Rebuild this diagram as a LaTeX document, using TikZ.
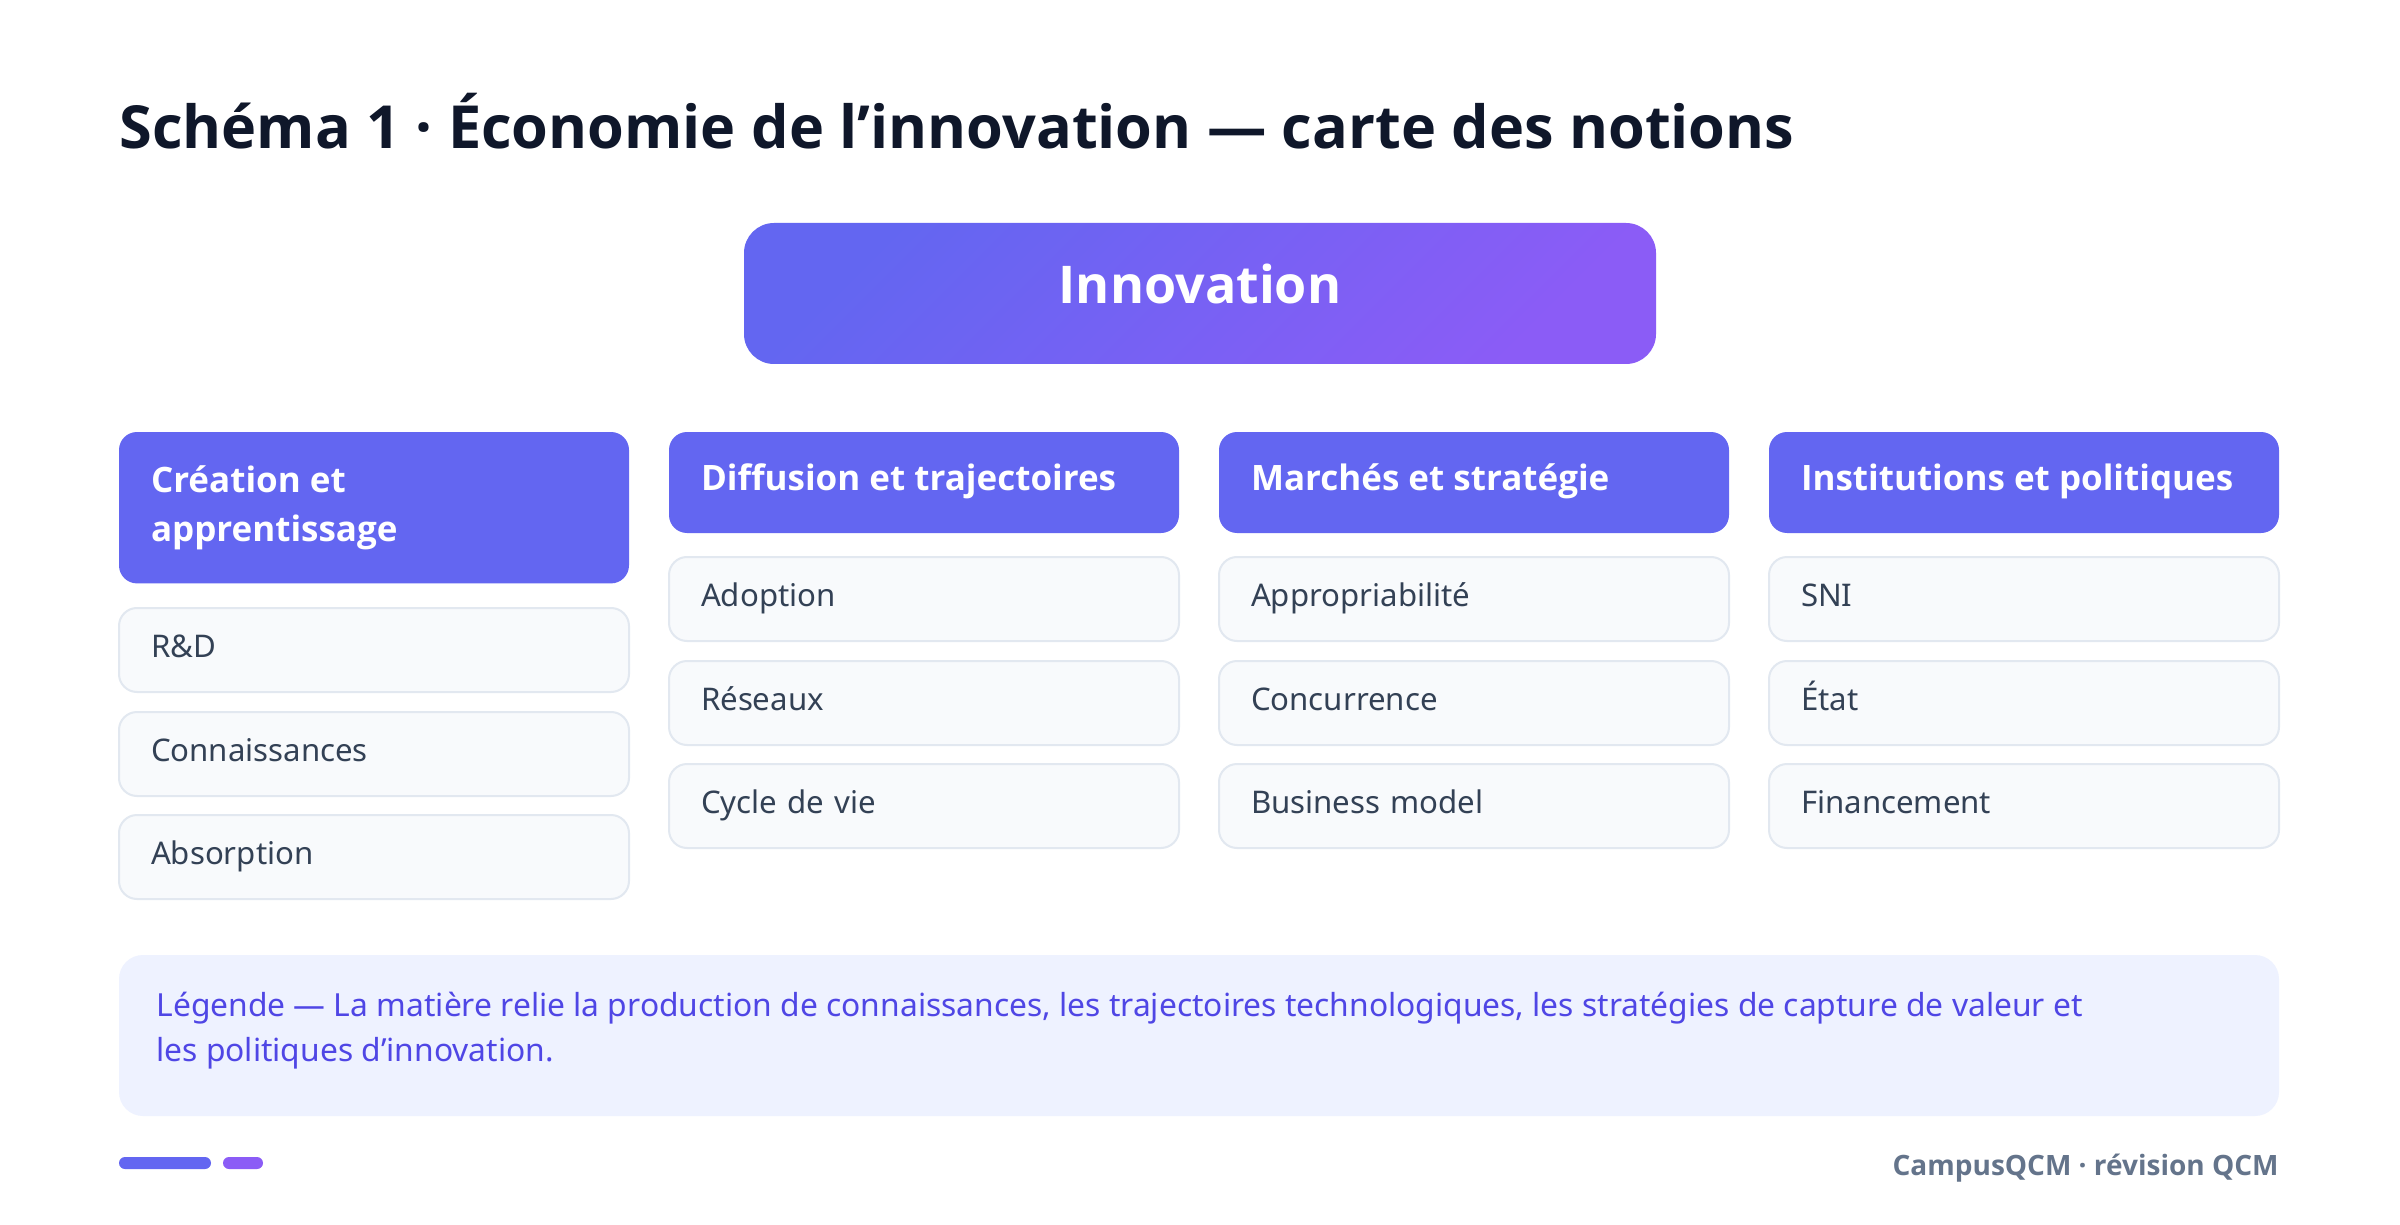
\documentclass[tikz,border=0pt]{standalone}
\usepackage{fontspec}
\IfFontExistsTF{Open Sans Bold}
  {\setmainfont{Noto Sans}[BoldFont={Open Sans Bold}]}
  {\IfFontExistsTF{Lato Bold}
    {\setmainfont{Noto Sans}[BoldFont={Lato Bold}]}
    {\setmainfont{Noto Sans}[BoldFont={Fira Sans Bold}]}}

\definecolor{indigo}{HTML}{6366F1}
\definecolor{violet}{HTML}{8B5CF6}
\definecolor{titleink}{HTML}{0F172A}
\definecolor{itemink}{HTML}{334155}
\definecolor{itemfill}{HTML}{F8FAFC}
\definecolor{itemline}{HTML}{E2E8F0}
\definecolor{legendfill}{HTML}{EEF2FF}
\definecolor{legendink}{HTML}{4F46E5}
\definecolor{footink}{HTML}{64748B}

\begin{document}
\begin{tikzpicture}[x=0.5pt, y=-0.5pt,
  catbox/.style={fill=indigo, rounded corners=9pt, minimum width=255pt, minimum height=50.5pt,
    text width=223pt, align=flush left, inner sep=0pt, outer sep=0pt, text=white,
    font=\fontsize{17.5}{24.5}\selectfont\bfseries},
  catline/.style={catbox, text height=13pt, text depth=5pt},
  itembox/.style={fill=itemfill, draw=itemline, line width=1pt, rounded corners=9pt,
    minimum width=255pt, minimum height=42pt, text width=223pt, align=left,
    inner sep=0pt, outer sep=0pt, text=itemink, text height=11pt, text depth=4pt,
    font=\fontsize{15.6}{20}\selectfont}]
\useasboundingbox (0,0) rectangle (2400,1225);
\fill[white] (0,0) rectangle (2400,1225);

% title
\node[anchor=base west, inner sep=0pt, text=titleink, font=\fontsize{29.7}{34}\selectfont\bfseries]
  (title) at (119,148.5) {Schéma 1 · Économie de l’innovation — carte des notions};

% central notion
\node[top color=indigo, bottom color=violet, shading angle=45, rounded corners=15pt,
  minimum width=456pt, minimum height=70.5pt, inner sep=0pt, text=white,
  text height=18.5pt, text depth=8pt, font=\fontsize{26}{30}\selectfont\bfseries]
  (innov) at (1200,293.5) {Innovation};

% column headers
\node[catbox, anchor=north, minimum height=75.7pt] (creation) at (374,432) {Création et\\apprentissage};
\node[catline, anchor=north] (diffusion) at (924,432) {Diffusion et trajectoires};
\node[catline, anchor=north] (marches) at (1474,432) {Marchés et stratégie};
\node[catline, anchor=north] (institutions) at (2024,432) {Institutions et politiques};

% items
\node[itembox] (rd) at (374,650) {R\&D};
\node[itembox] (connaissances) at (374,754) {Connaissances};
\node[itembox] (absorption) at (374,857) {Absorption};

\node[itembox] (adoption) at (924,599) {Adoption};
\node[itembox] (reseaux) at (924,703) {Réseaux};
\node[itembox] (cycle) at (924,806) {Cycle de vie};

\node[itembox] (appropriabilite) at (1474,599) {Appropriabilité};
\node[itembox] (concurrence) at (1474,703) {Concurrence};
\node[itembox] (business) at (1474,806) {Business model};

\node[itembox] (sni) at (2024,599) {SNI};
\node[itembox] (etat) at (2024,703) {État};
\node[itembox] (financement) at (2024,806) {Financement};

% legend
\node[fill=legendfill, rounded corners=12pt, minimum width=1080pt, minimum height=80.5pt,
  inner sep=0pt] (legende) at (1199,1035.5) {};
\node[anchor=base west, align=left, inner sep=0pt, text=legendink,
  font=\fontsize{15.9}{22.5}\selectfont]
  (legtext) at (156,1061) {Légende — La matière relie la production de connaissances, les trajectoires technologiques, les stratégies de capture de valeur et\\les politiques d’innovation.};

% footer
\node[fill=indigo, rounded corners=3pt, minimum width=46pt, minimum height=6pt, inner sep=0pt]
  (bara) at (165,1163) {};
\node[fill=violet, rounded corners=3pt, minimum width=20pt, minimum height=6pt, inner sep=0pt]
  (barb) at (243,1163) {};
\node[anchor=base east, inner sep=0pt, text=footink, font=\fontsize{14}{17}\selectfont\bfseries]
  (credit) at (2279,1175) {CampusQCM · révision QCM};
\end{tikzpicture}
\end{document}
